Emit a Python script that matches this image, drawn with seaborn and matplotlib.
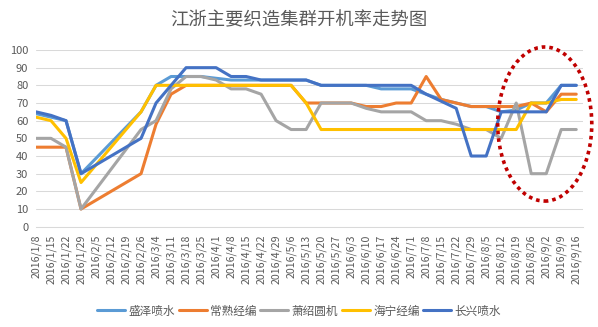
import numpy as np
import pandas as pd
import matplotlib
matplotlib.use("Agg")
import matplotlib.pyplot as plt
from matplotlib.patches import Ellipse
import seaborn as sns

nan = np.nan

dates = ["2016/1/8", "2016/1/15", "2016/1/22", "2016/1/29", "2016/2/5", "2016/2/12",
         "2016/2/19", "2016/2/26", "2016/3/4", "2016/3/11", "2016/3/18", "2016/3/25",
         "2016/4/1", "2016/4/8", "2016/4/15", "2016/4/22", "2016/4/29", "2016/5/6",
         "2016/5/13", "2016/5/20", "2016/5/27", "2016/6/3", "2016/6/10", "2016/6/17",
         "2016/6/24", "2016/7/1", "2016/7/8", "2016/7/15", "2016/7/22", "2016/7/29",
         "2016/8/5", "2016/8/12", "2016/8/19", "2016/8/26", "2016/9/2", "2016/9/9",
         "2016/9/16"]

shengze = [64, 62, 60, 30, nan, nan, nan, 65, 80, 85, 85, 85, 84, 83, 83, 83, 83, 83,
           83, 80, 80, 80, 80, 78, 78, 78, 75, 72, 70, 68, 68, 65, 66, 70, 70, 80, 80]
changshu = [45, 45, 45, 10, nan, nan, nan, 30, 58, 75, 80, 80, 80, 80, 80, 80, 80, 80,
            70, 70, 70, 70, 68, 68, 70, 70, 85, 72, 70, 68, 68, 68, 68, 70, 65, 75, 75]
xiaoshao = [50, 50, 45, 10, nan, nan, nan, 55, 60, 78, 85, 85, 83, 78, 78, 75, 60, 55,
            55, 70, 70, 70, 67, 65, 65, 65, 60, 60, 58, 55, 55, 50, 70, 30, 30, 55, 55]
haining = [62, 60, 50, 25, nan, nan, nan, 65, 80, 80, 80, 80, 80, 80, 80, 80, 80, 80,
           70, 55, 55, 55, 55, 55, 55, 55, 55, 55, 55, 55, 55, 55, 55, 70, 70, 72, 72]
changxing = [65, 63, 60, 30, nan, nan, nan, 50, 70, 80, 90, 90, 90, 85, 85, 83, 83, 83,
             83, 80, 80, 80, 80, 80, 80, 80, 75, 71, 67, 40, 40, 65, 65, 65, 65, 80, 80]

series_names = ["盛泽喷水", "常熟经编", "萧绍圆机", "海宁经编", "长兴喷水"]
series_values = [shengze, changshu, xiaoshao, haining, changxing]
colors = ["#5B9BD5", "#ED7D31", "#A5A5A5", "#FFC000", "#4472C4"]

frames = []
for name, vals in zip(series_names, series_values):
    frames.append(pd.DataFrame({"idx": np.arange(len(dates)), "date": dates,
                                "value": vals, "series": name}))
df = pd.concat(frames, ignore_index=True)

sns.set_style("white")
plt.rcParams["font.family"] = ["Noto Sans CJK SC", "DejaVu Sans"]

fig = plt.figure(figsize=(5.98, 3.27), dpi=100)
ax = fig.add_axes([36 / 598, 1 - 226.7 / 327, (583 - 36) / 598, (226.7 - 50) / 327])

sns.lineplot(data=df, x="idx", y="value", hue="series", hue_order=series_names,
             palette=colors, linewidth=2.2, errorbar=None, ax=ax, sort=True)

ax.set_xlim(0, 36.45)
ax.set_ylim(0, 100)
ax.set_yticks(range(0, 101, 10))
ax.set_xticks(range(len(dates)))
ax.set_xticklabels(dates, rotation=90, fontsize=7.6, color="#595959")
ax.tick_params(axis="y", length=0, pad=5.5, labelsize=8, labelcolor="#595959")
ax.tick_params(axis="x", length=3.6, width=0.75, color="#D9D9D9", pad=2)
ax.set_xlabel("")
ax.set_ylabel("")
ax.grid(axis="y", color="#D9D9D9", linewidth=0.75)
ax.set_axisbelow(True)
for side in ["left", "right", "top"]:
    ax.spines[side].set_visible(False)
ax.spines["bottom"].set_color("#D9D9D9")
ax.spines["bottom"].set_linewidth(0.75)

handles, labels = ax.get_legend_handles_labels()
if ax.get_legend() is not None:
    ax.get_legend().remove()
fig.legend(handles, labels, loc="center", bbox_to_anchor=(0.5, 1 - 311 / 327), ncol=5,
           frameon=False, handlelength=2.4, columnspacing=0.3, handletextpad=0.3,
           fontsize=8.4, labelcolor="#595959")

fig.text(0.5, 1 - 20 / 327, "江浙主要织造集群开机率走势图", ha="center", va="center",
         fontsize=13.2, color="#595959")

ell = Ellipse((33.9, 58.1), width=6.27, height=87.2, fill=False, edgecolor="#C00000",
              linewidth=2.6, linestyle=(0, (1, 1.1)), clip_on=False, zorder=5)
ax.add_patch(ell)

fig.savefig("out.png", dpi=100)
